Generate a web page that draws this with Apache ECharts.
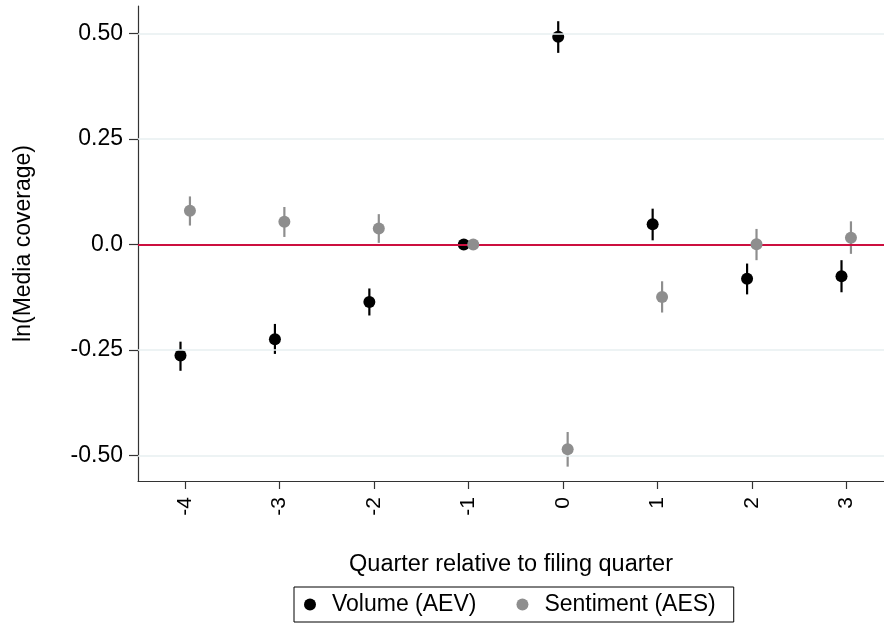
<!DOCTYPE html>
<html>
<head>
<meta charset="utf-8">
<script src="https://cdn.jsdelivr.net/npm/echarts@6/dist/echarts.min.js"></script>
<style>
html,body{margin:0;padding:0;background:#fff;}
#chart{width:884px;height:633px;}
</style>
</head>
<body>
<div id="chart"></div>
<script>
// ---- data ----
const quarters = [-4, -3, -2, -1, 0, 1, 2, 3];
const volumeEst = [-0.263, -0.224, -0.136, 0.0, 0.492, 0.048, -0.081, -0.075];
const volumeLo  = [-0.299, -0.259, -0.168, 0.0, 0.454, 0.010, -0.118, -0.113];
const volumeHi  = [-0.230, -0.188, -0.104, 0.0, 0.529, 0.085, -0.045, -0.037];
const sentimentEst = [0.080, 0.054, 0.038, 0.0, -0.485, -0.124, 0.001, 0.016];
const sentimentLo  = [0.045, 0.018, 0.004, 0.0, -0.526, -0.161, -0.037, -0.022];
const sentimentHi  = [0.114, 0.089, 0.072, 0.0, -0.444, -0.087, 0.037, 0.055];
const yTickValues = [-0.5, -0.25, 0, 0.25, 0.5];
const yTickLabels = ['-0.50', '-0.25', '0.0', '0.25', '0.50'];
const seriesNames = ['Volume (AEV)', 'Sentiment (AES)'];

// ---- styling ----
const FONT = '"Liberation Sans", Arial, Helvetica, sans-serif';
const BLACK = '#000000';
const GREY = '#8e8e8e';
const OFFSET = 0.05;

function pts(est, off) { return quarters.map((q, i) => [q + off, est[i]]); }
function bars(lo, hi, off) { return quarters.map((q, i) => [q + off, lo[i], hi[i]]); }

function errRender(color) {
  return function (params, api) {
    const p1 = api.coord([api.value(0), api.value(1)]);
    const p2 = api.coord([api.value(0), api.value(2)]);
    return {
      type: 'line',
      shape: { x1: p1[0], y1: p1[1], x2: p2[0], y2: p2[1] },
      style: { stroke: color, lineWidth: 2.2 }
    };
  };
}

const chart = echarts.init(document.getElementById('chart'), null, { renderer: 'canvas' });
chart.setOption({
  animation: false,
  backgroundColor: '#ffffff',
  grid: { left: 138, right: 0, top: 6, bottom: 152, containLabel: false },
  xAxis: {
    type: 'value', min: -4.5, max: 3.4,
    name: 'Quarter relative to filing quarter',
    nameLocation: 'middle', nameGap: 72,
    nameTextStyle: { fontFamily: FONT, fontSize: 23.5, color: '#000' },
    axisLine: { show: true, onZero: false, lineStyle: { color: '#333', width: 1.2 } },
    axisTick: { show: true, length: 8, customValues: quarters, lineStyle: { color: '#333', width: 1.2 } },
    axisLabel: { customValues: quarters, rotate: 90, margin: 16, fontFamily: FONT, fontSize: 21, color: '#000',
      formatter: v => String(v) },
    splitLine: { show: false }
  },
  yAxis: {
    type: 'value', min: -0.56, max: 0.565,
    name: 'ln(Media coverage)',
    nameLocation: 'middle', nameGap: 103,
    nameTextStyle: { fontFamily: FONT, fontSize: 23, color: '#000' },
    axisLine: { show: true, onZero: false, lineStyle: { color: '#333', width: 1.2 } },
    axisTick: { show: true, length: 9, customValues: yTickValues, lineStyle: { color: '#333', width: 1.2 } },
    axisLabel: { customValues: yTickValues, margin: 15, fontFamily: FONT, fontSize: 23, color: '#000',
      formatter: v => { const i = yTickValues.findIndex(t => Math.abs(t - v) < 1e-9); return i >= 0 ? yTickLabels[i] : ''; } },
    splitLine: { show: false }
  },
  legend: {
    data: seriesNames,
    left: 294, top: 587,
    orient: 'horizontal',
    icon: 'circle', itemWidth: 12, itemHeight: 12, itemGap: 40,
    padding: [6, 18, 6, 10],
    borderColor: '#000', borderWidth: 1,
    textStyle: { fontFamily: FONT, fontSize: 23, color: '#000', padding: [0, 0, 0, 11] }
  },
  series: [
    {
      type: 'line', data: [], z: 1, silent: true,
      markLine: {
        silent: true, symbol: 'none', label: { show: false },
        data: yTickValues.filter(v => v !== 0).map(v => ({ yAxis: v, lineStyle: { color: '#e7eff1', width: 1.6, type: 'solid' } }))
          .concat([{ yAxis: 0, lineStyle: { color: '#cc0f3f', width: 2, type: 'solid' } }])
      }
    },
    { type: 'custom', z: 3, silent: true, renderItem: errRender(BLACK), data: bars(volumeLo, volumeHi, -OFFSET), encode: { x: 0, y: [1, 2] } },
    { type: 'custom', z: 3, silent: true, renderItem: errRender(GREY), data: bars(sentimentLo, sentimentHi, OFFSET), encode: { x: 0, y: [1, 2] } },
    { name: seriesNames[0], type: 'scatter', z: 4, symbol: 'circle', symbolSize: 12, itemStyle: { color: BLACK, opacity: 1 }, data: pts(volumeEst, -OFFSET) },
    { name: seriesNames[1], type: 'scatter', z: 5, symbol: 'circle', symbolSize: 12, itemStyle: { color: GREY, opacity: 1 }, data: pts(sentimentEst, OFFSET) }
  ]
});
</script>
</body>
</html>
